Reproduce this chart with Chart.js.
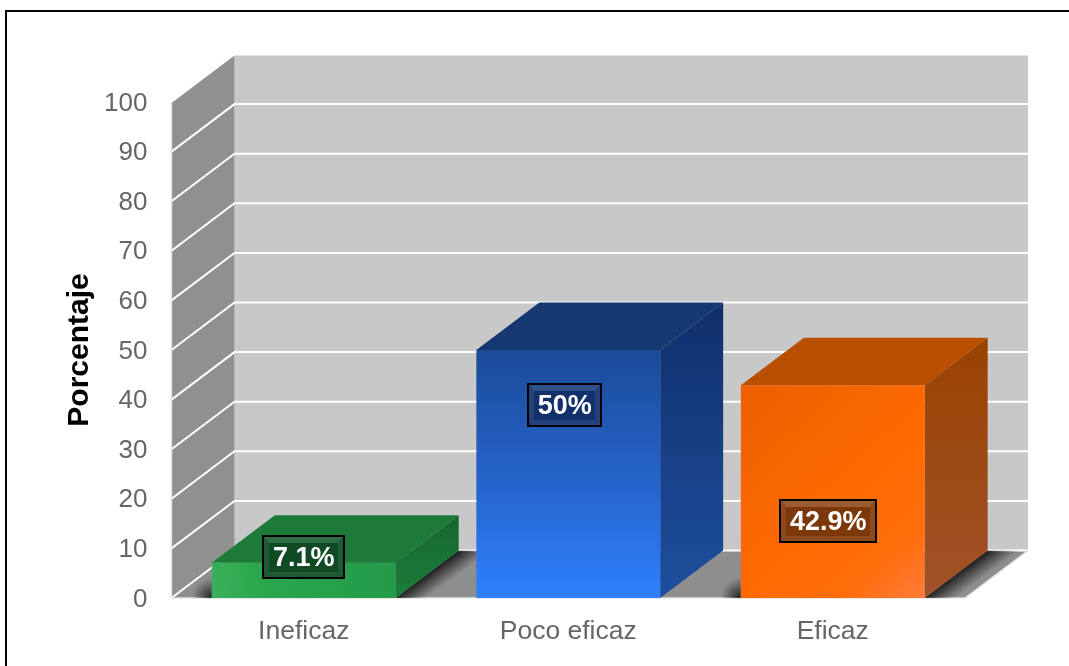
<!DOCTYPE html>
<html>
<head>
<meta charset="utf-8">
<title>Porcentaje</title>
<script src="https://cdn.jsdelivr.net/npm/chart.js@4"></script>
<style>
    body { margin: 0; background: #fff; }
    canvas { display: block; filter: blur(0.45px); }
</style>
</head>
<body>
<canvas id="myChart" width="1069" height="666"></canvas>
<script>
const categories = ["Ineficaz", "Poco eficaz", "Eficaz"];
const percentages = [7.1, 50, 42.9];
const labelLevels = [8.2, 39, 15.5]; // where the value boxes sit, in axis units
const yMin = 0;
const yMax = 100;
const yStep = 10;
const yTitle = "Porcentaje";

const FONT = "'Liberation Sans', Arial, sans-serif";
const DEPTH_X = 63;
const DEPTH_Y = 47.5;

const barColors = [
    { top: "#1d7a38", sideA: "#17662f", sideB: "#1c7d39", box: "#0f4a24", bevelHi: "#2f6d48", bevelLo: "#1f5a36", shadow: true, shift: 0 },
    { top: "#14386f", sideA: "#102f6b", sideB: "#1e4f9e", box: "#12306a", bevelHi: "#2f5089", bevelLo: "#234178", shadow: false, shift: -3.5 },
    { top: "#b84f00", sideA: "#9a4200", sideB: "#a0522a", box: "#7c3808", bevelHi: "#9c5c33", bevelLo: "#8a4a1e", shadow: true, shift: -4.5 }
];

function poly(c, pts, fill) {
    c.beginPath();
    pts.forEach((p, i) => i ? c.lineTo(p[0], p[1]) : c.moveTo(p[0], p[1]));
    c.closePath();
    c.fillStyle = fill;
    c.fill();
}

function frontGradient(context) {
    const chart = context.chart;
    const c = chart.ctx;
    const i = context.dataIndex;
    if (!chart.chartArea || i === undefined) return "#888";
    const y = chart.scales.y;
    const top = y.getPixelForValue(percentages[i]);
    const base = y.getPixelForValue(0);
    const half = 92;
    const cx = chart.scales.x.getPixelForValue(i);
    if (!Number.isFinite(top) || !Number.isFinite(cx)) return "#888";
    let g;
    if (i === 0) {
        g = c.createLinearGradient(cx + half, top, cx - half, base);
        g.addColorStop(0, "#239a49");
        g.addColorStop(0.7, "#2aa64d");
        g.addColorStop(1, "#3bb05a");
    } else if (i === 1) {
        g = c.createLinearGradient(0, top, 0, base);
        g.addColorStop(0, "#1b4b98");
        g.addColorStop(0.5, "#2562c8");
        g.addColorStop(1, "#2f80ff");
    } else {
        g = c.createLinearGradient(cx - half, top, cx + half, base);
        g.addColorStop(0, "#ec5f00");
        g.addColorStop(0.55, "#ff6a00");
        g.addColorStop(0.8, "#ff6d0c");
        g.addColorStop(1, "#ff7c3a");
    }
    return g;
}

const scene3d = {
    id: "scene3d",
    beforeDatasetsDraw(chart) {
        const c = chart.ctx;
        const x = chart.scales.x;
        const y = chart.scales.y;
        const L = x.left, R = x.right;
        const T = y.getPixelForValue(yMax) + 1, B = y.getPixelForValue(yMin);
        c.save();

        // outer frame
        c.fillStyle = "#000";
        c.fillRect(5, 10, 1064, 2);
        c.fillRect(5, 10, 2, 656);

        // walls and floor
        c.fillStyle = "#c8c8c8";
        c.fillRect(L + DEPTH_X, T - DEPTH_Y, R - L, B - T);
        poly(c, [[L, T], [L + DEPTH_X, T - DEPTH_Y], [L + DEPTH_X, B - DEPTH_Y], [L, B]], "#909090");
        poly(c, [[L, B], [L + DEPTH_X, B - DEPTH_Y], [R + DEPTH_X, B - DEPTH_Y], [R, B]], "#8e8e8e");

        // grid lines
        c.strokeStyle = "#fff";
        c.lineWidth = 2;
        y.ticks.forEach(t => {
            const py = y.getPixelForValue(t.value);
            if (t.value === yMax) return;
            c.beginPath();
            c.moveTo(L, py);
            c.lineTo(L + DEPTH_X, py - DEPTH_Y);
            c.lineTo(R + DEPTH_X, py - DEPTH_Y);
            c.stroke();
        });
        c.strokeStyle = "#e4e4e4";
        c.lineWidth = 1.5;
        c.beginPath();
        c.moveTo(L, T);
        c.lineTo(L, B);
        c.lineTo(R, B);
        c.lineTo(R + DEPTH_X, B - DEPTH_Y);
        c.stroke();

        // shadows on the floor, then bar sides and tops
        const meta = chart.getDatasetMeta(0);
        c.save();
        c.beginPath();
        c.moveTo(L, B);
        c.lineTo(L + DEPTH_X, B - DEPTH_Y);
        c.lineTo(R + DEPTH_X, B - DEPTH_Y);
        c.lineTo(R, B);
        c.closePath();
        c.clip();
        meta.data.forEach((el, i) => {
            if (!barColors[i].shadow) return;
            const x0 = el.x - el.width / 2, x1 = el.x + el.width / 2;
            const sh = c.createLinearGradient(x1 + 32, B - 24, x1 + 32 + 11, B - 24 + 15);
            sh.addColorStop(0, "rgba(20,20,20,0.9)");
            sh.addColorStop(1, "rgba(20,20,20,0)");
            poly(c, [[x1, B], [x1 + DEPTH_X, B - DEPTH_Y], [x1 + DEPTH_X + 40, B - DEPTH_Y], [x1 + 40, B]], sh);
            const rg = c.createRadialGradient(x0, B, 0, x0, B, 20);
            rg.addColorStop(0, "rgba(20,20,20,0.9)");
            rg.addColorStop(1, "rgba(20,20,20,0)");
            c.fillStyle = rg;
            c.fillRect(x0 - 30, B - 30, 30, 30);
        });
        c.restore();

        meta.data.forEach((el, i) => {
            const x0 = el.x - el.width / 2, x1 = el.x + el.width / 2;
            const top = el.y;
            const col = barColors[i];
            poly(c, [[x0, top], [x0 + DEPTH_X, top - DEPTH_Y], [x1 + DEPTH_X, top - DEPTH_Y], [x1, top]], col.top);
            const sg = c.createLinearGradient(0, top - DEPTH_Y, 0, B);
            sg.addColorStop(0, col.sideA);
            sg.addColorStop(1, col.sideB);
            poly(c, [[x1, top], [x1 + DEPTH_X, top - DEPTH_Y], [x1 + DEPTH_X, B - DEPTH_Y], [x1, B]], sg);
        });
        c.restore();
    },
    afterDatasetsDraw(chart) {
        const c = chart.ctx;
        const y = chart.scales.y;
        const meta = chart.getDatasetMeta(0);
        c.save();
        c.font = "bold 27px " + FONT;
        c.textAlign = "center";
        c.textBaseline = "middle";
        meta.data.forEach((el, i) => {
            const text = percentages[i] + "%";
            const col = barColors[i];
            const w = Math.round(c.measureText(text).width) + 21;
            const h = 44;
            const cx = el.x + col.shift;
            const cy = y.getPixelForValue(labelLevels[i]);
            const bx = Math.round(cx - w / 2), by = Math.round(cy - h / 2);
            const r = bx + w, b = by + h;
            c.fillStyle = "#000";
            c.fillRect(bx, by, w, h);
            // bevel: top and bottom bands catch the light, the sides stay darker
            c.fillStyle = col.box;
            c.fillRect(bx + 2, by + 2, w - 4, h - 4);
            poly(c, [[bx + 2, by + 2], [r - 2, by + 2], [r - 7, by + 8], [bx + 7, by + 8]], col.bevelHi);
            poly(c, [[bx + 2, b - 2], [r - 2, b - 2], [r - 7, b - 7], [bx + 7, b - 7]], col.bevelLo);
            poly(c, [[bx + 2, by + 2], [bx + 7, by + 8], [bx + 7, b - 7], [bx + 2, b - 2]], col.bevelLo);
            poly(c, [[r - 2, by + 2], [r - 7, by + 8], [r - 7, b - 7], [r - 2, b - 2]], col.bevelLo);
            c.fillStyle = "#fff";
            c.fillText(text, cx, by + h / 2 + 2);
        });
        c.restore();
    }
};

new Chart(document.getElementById("myChart"), {
    type: "bar",
    data: {
        labels: categories,
        datasets: [{
            data: percentages,
            backgroundColor: frontGradient,
            borderWidth: 0,
            barPercentage: 0.695,
            categoryPercentage: 1
        }]
    },
    plugins: [scene3d],
    options: {
        responsive: false,
        animation: false,
        layout: { padding: { top: 102, right: 104, left: 0, bottom: 0 } },
        plugins: { legend: { display: false }, tooltip: { enabled: false } },
        scales: {
            x: {
                grid: { display: false },
                border: { display: false },
                ticks: { color: "#666", font: { family: FONT, size: 26.5 }, padding: 10, maxRotation: 0 },
                afterFit(axis) { axis.height = 68; }
            },
            y: {
                min: yMin,
                max: yMax,
                grid: { display: false, drawTicks: false },
                border: { display: false },
                ticks: { stepSize: yStep, color: "#666", font: { family: FONT, size: 26 }, padding: 24, labelOffset: 1.5 },
                title: {
                    display: true,
                    text: yTitle,
                    color: "#000",
                    font: { family: FONT, size: 30, weight: "bold" },
                    padding: { top: 62, bottom: 0 }
                },
                afterFit(axis) { axis.width = 171.5; }
            }
        }
    }
});
</script>
</body>
</html>
